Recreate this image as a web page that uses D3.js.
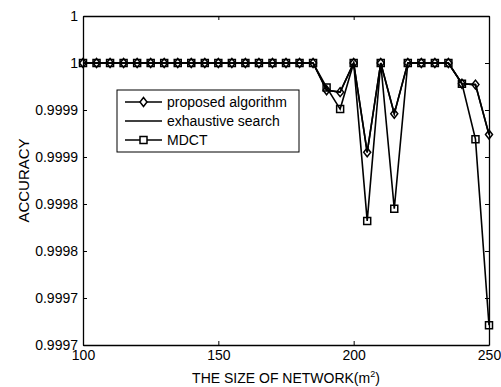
<!DOCTYPE html>
<html>
<head>
<meta charset="utf-8">
<script src="https://cdn.jsdelivr.net/npm/d3@7"></script>
<style>
  body { margin: 0; background: #fff; }
  svg { font-family: "Liberation Sans", Arial, sans-serif; }
</style>
</head>
<body>
<div id="chart"></div>
<script>
// network sizes
const sizes = d3.range(100, 251, 5);

const proposed = [1, 1, 1, 1, 1, 1, 1, 1, 1, 1, 1, 1, 1, 1, 1, 1, 1, 1,
  0.999971, 0.999969, 1, 0.999905, 1, 0.999946, 1, 1, 1, 1, 0.999978, 0.999977, 0.999924];
const exhaustive = [1, 1, 1, 1, 1, 1, 1, 1, 1, 1, 1, 1, 1, 1, 1, 1, 1, 1,
  0.999971, 0.999969, 1, 0.999905, 1, 0.999946, 1, 1, 1, 1, 0.999978, 0.999977, 0.999924];
const mdct = [1, 1, 1, 1, 1, 1, 1, 1, 1, 1, 1, 1, 1, 1, 1, 1, 1, 1,
  0.999974, 0.999951, 1, 0.999832, 1, 0.999845, 1, 1, 1, 1, 0.999978, 0.999919, 0.999721];

const xTicks = [100, 150, 200, 250];
const yTicks = [0.9997, 0.99975, 0.9998, 0.99985, 0.9999, 0.99995, 1, 1.00005];
const yTickLabels = ['0.9997', '0.9997', '0.9998', '0.9998', '0.9999', '0.9999', '1', '1'];

const width = 501, height = 387;
const margin = { top: 16, right: 12, bottom: 42, left: 83 };
const w = width - margin.left - margin.right;
const h = height - margin.top - margin.bottom;

const svg = d3.select('#chart').append('svg')
  .attr('width', width).attr('height', height);

const g = svg.append('g').attr('transform', `translate(${margin.left},${margin.top})`);

const x = d3.scaleLinear().domain([100, 250]).range([0, w]);
const y = d3.scaleLinear().domain([0.9997, 1.00005]).range([h, 0]);

// axes, matlab look: ticks inside + box
const tickLen = 4;
g.append('g').attr('transform', `translate(0,${h})`)
  .call(d3.axisBottom(x).tickValues(xTicks).tickSizeInner(-tickLen).tickSizeOuter(0).tickPadding(5)
    .tickFormat(d3.format('d')));
g.append('g')
  .call(d3.axisTop(x).tickValues(xTicks).tickSizeInner(-tickLen).tickSizeOuter(0).tickFormat(''));
g.append('g')
  .call(d3.axisLeft(y).tickValues(yTicks).tickSizeInner(-tickLen).tickSizeOuter(0).tickPadding(5)
    .tickFormat((d, i) => yTickLabels[i]));
g.append('g').attr('transform', `translate(${w},0)`)
  .call(d3.axisRight(y).tickValues(yTicks).tickSizeInner(-tickLen).tickSizeOuter(0).tickFormat(''));

g.selectAll('.domain').attr('stroke', '#000').attr('stroke-width', 1.3);
g.selectAll('.tick line').attr('stroke', '#000');
g.selectAll('.tick text').attr('font-size', 14).attr('fill', '#000')
  .attr('font-family', '"Liberation Sans", Arial, sans-serif');

// axis titles
svg.append('text')
  .attr('x', margin.left + w / 2).attr('y', 383)
  .attr('text-anchor', 'middle').attr('font-size', 14)
  .html('THE SIZE OF NETWORK(m<tspan dy="-6" font-size="9">2</tspan><tspan dy="6">)</tspan>');
svg.append('text')
  .attr('transform', `translate(29,${margin.top + h / 2}) rotate(-90)`)
  .attr('text-anchor', 'middle').attr('font-size', 15)
  .text('ACCURACY');

const line = d3.line().x((d, i) => x(sizes[i])).y(d => y(d));

function drawSeries(vals, marker) {
  g.append('path').datum(vals)
    .attr('d', line).attr('fill', 'none')
    .attr('stroke', '#000').attr('stroke-width', 1.6);
  if (marker) {
    g.append('g').selectAll('path').data(vals).enter().append('path')
      .attr('transform', (d, i) => `translate(${x(sizes[i])},${y(d)})`)
      .attr('d', marker)
      .attr('fill', 'none').attr('stroke', '#000').attr('stroke-width', 1.5);
  }
}

const diamond = 'M0,-4.5L3.5,0L0,4.5L-3.5,0Z';
const square = 'M-3.5,-3.5H3.5V3.5H-3.5Z';

drawSeries(exhaustive, null);
drawSeries(mdct, square);
drawSeries(proposed, diamond);

// legend
const lg = svg.append('g').attr('transform', 'translate(117,90)');
lg.append('rect').attr('width', 182).attr('height', 62)
  .attr('fill', '#fff').attr('stroke', '#000').attr('stroke-width', 1);
const entries = [
  { name: 'proposed algorithm', marker: diamond },
  { name: 'exhaustive search', marker: null },
  { name: 'MDCT', marker: square }
];
entries.forEach((e, i) => {
  const ly = 12 + i * 19;
  lg.append('line').attr('x1', 8).attr('x2', 45).attr('y1', ly).attr('y2', ly)
    .attr('stroke', '#000').attr('stroke-width', 1.6);
  if (e.marker) {
    lg.append('path').attr('transform', `translate(26.5,${ly})`).attr('d', e.marker)
      .attr('fill', '#fff').attr('stroke', '#000').attr('stroke-width', 1.5);
  }
  lg.append('text').attr('x', 50).attr('y', ly + 5)
    .attr('font-size', 14).text(e.name);
});
</script>
</body>
</html>
